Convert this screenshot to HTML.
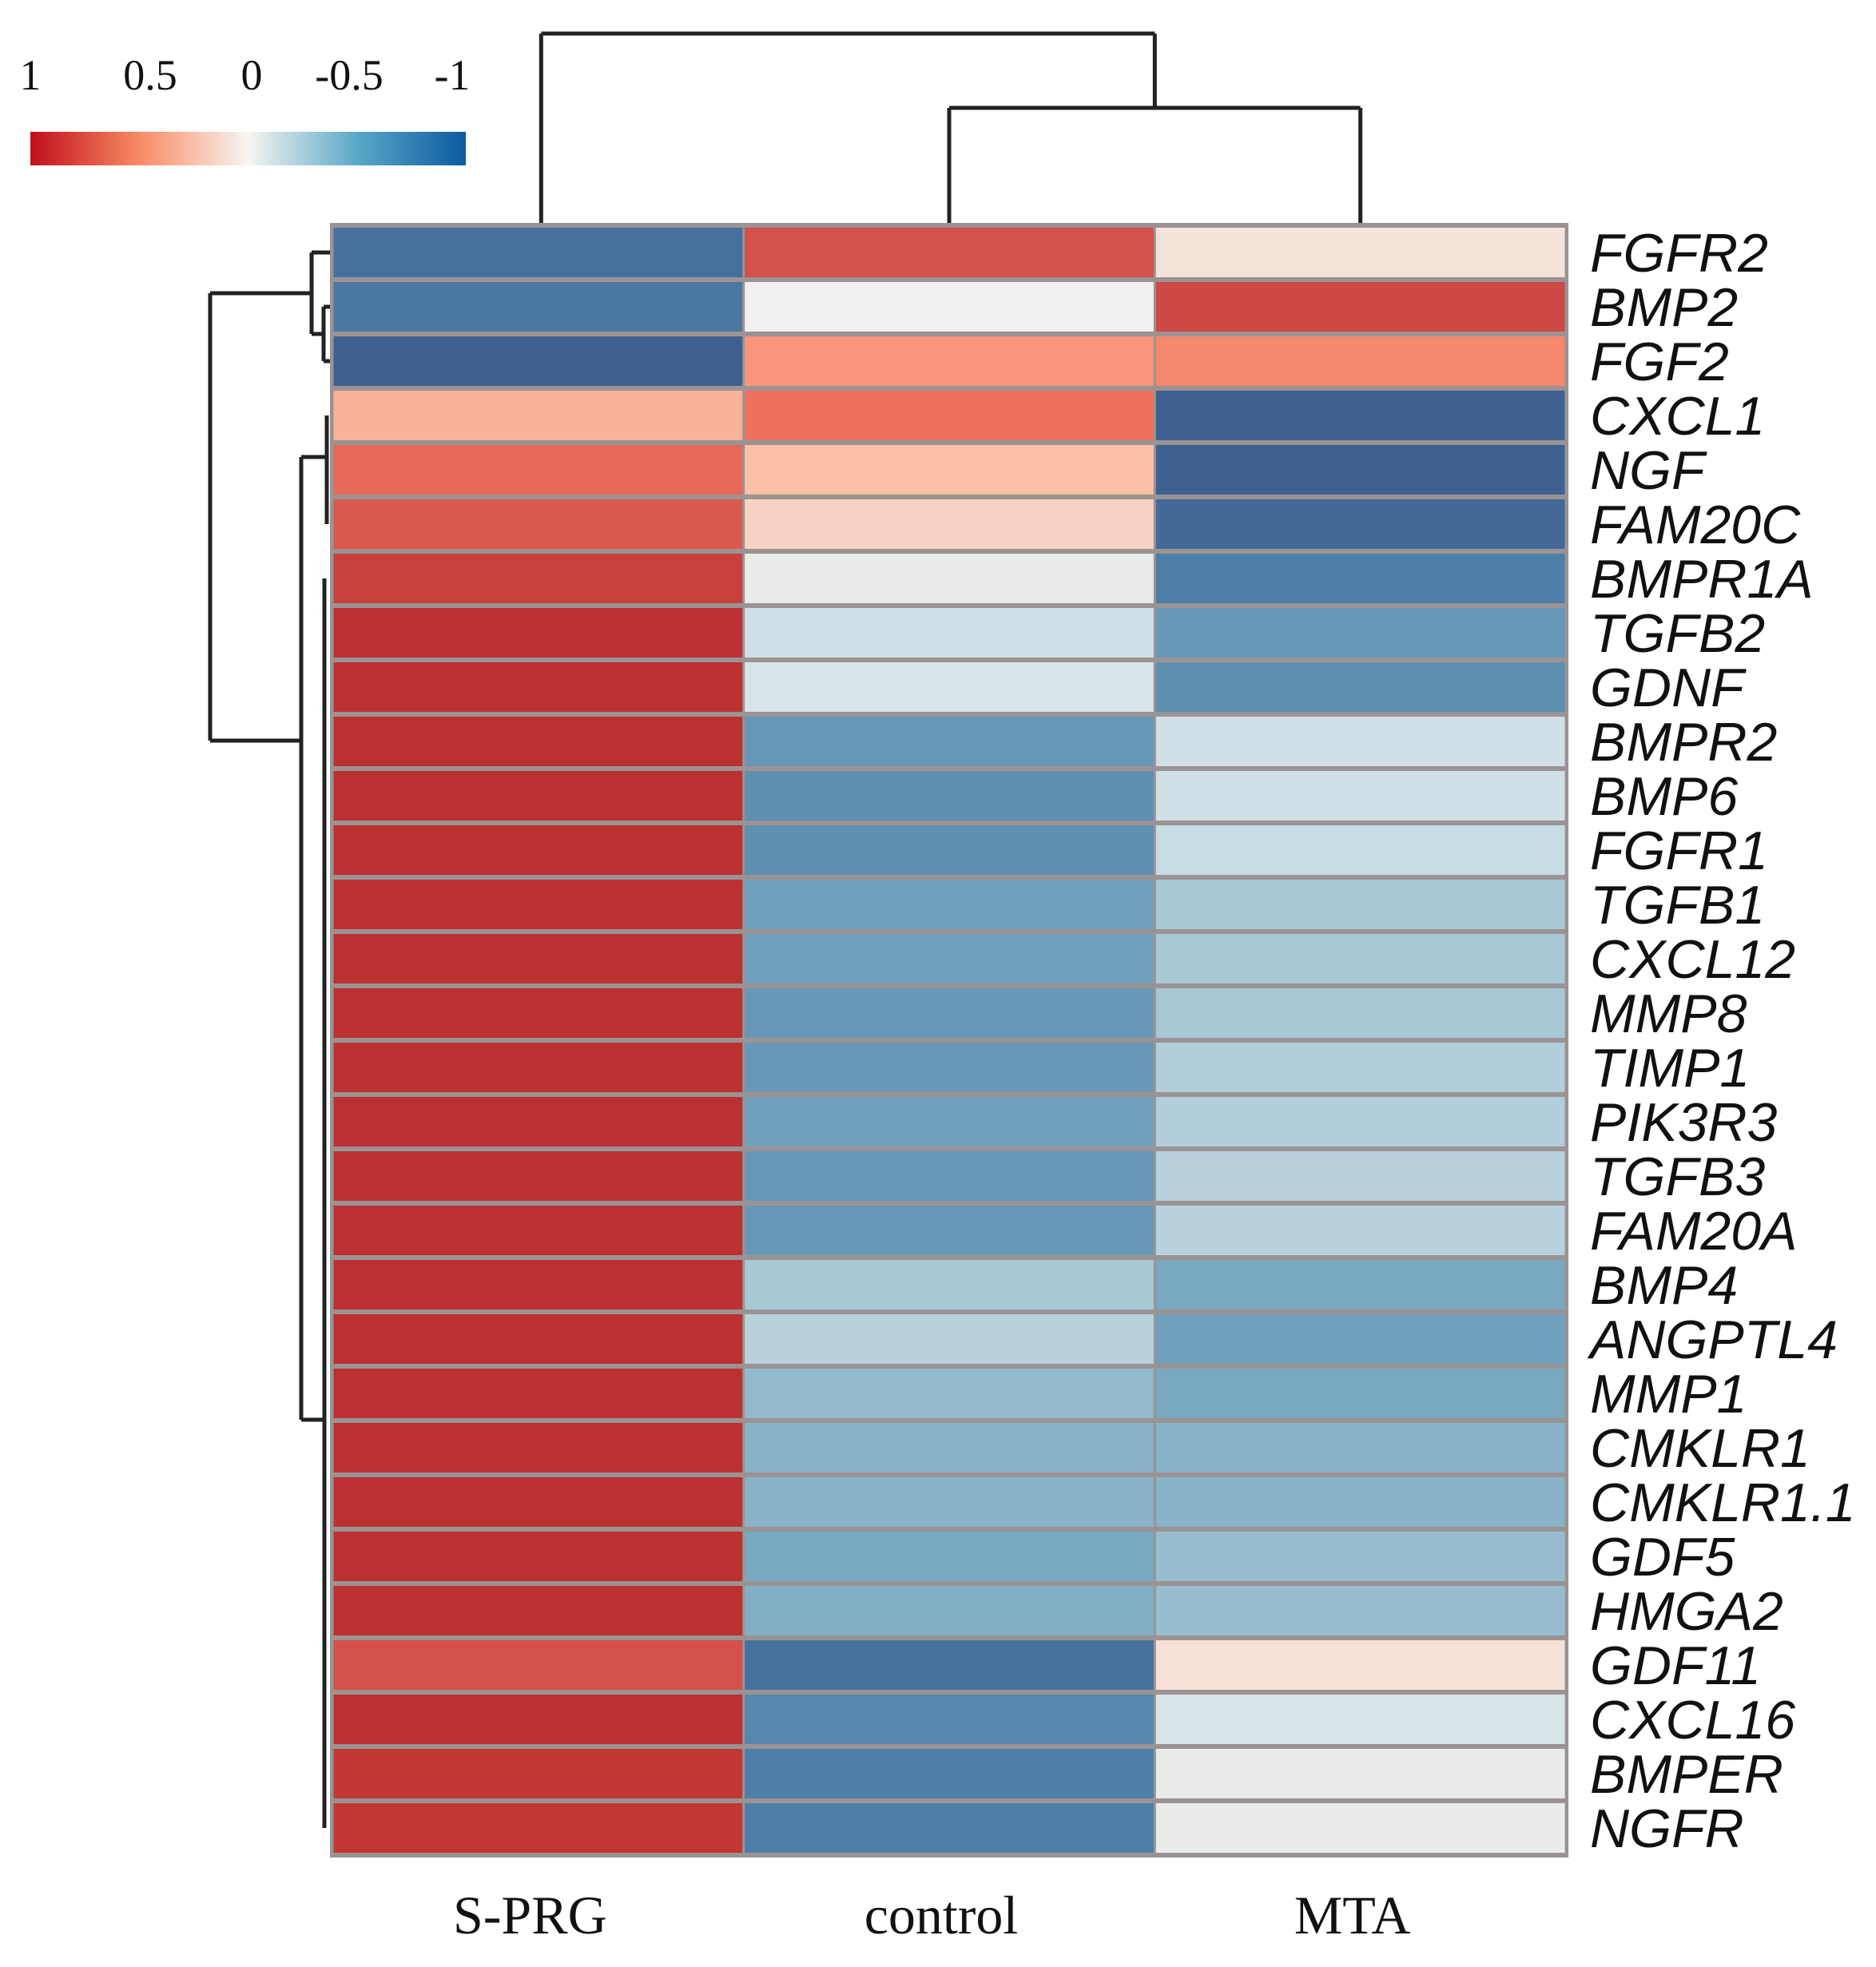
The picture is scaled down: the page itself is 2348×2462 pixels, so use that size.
<!DOCTYPE html>
<html><head><meta charset="utf-8"><style>
html,body{margin:0;padding:0;background:#fff;}
svg{display:block;}
</style></head><body>
<svg id="chart" width="2348" height="2462" viewBox="0 0 2348 2462" xmlns="http://www.w3.org/2000/svg">
<defs>
<linearGradient id="lg" x1="0" x2="1" y1="0" y2="0">
<stop offset="0" stop-color="#c0101e"/><stop offset="0.25" stop-color="#f88a64"/><stop offset="0.5" stop-color="#f7f5f2"/><stop offset="0.75" stop-color="#5aa8c8"/><stop offset="1" stop-color="#0b5aa0"/>
</linearGradient>
</defs>
<g font-family="Liberation Serif, serif" font-size="54" fill="#111">
<text x="38" y="112" text-anchor="middle">1</text>
<text x="188" y="112" text-anchor="middle">0.5</text>
<text x="315" y="112" text-anchor="middle">0</text>
<text x="437" y="112" text-anchor="middle">-0.5</text>
<text x="566" y="112" text-anchor="middle">-1</text>
<rect x="38" y="165" width="545" height="42" fill="url(#lg)"/>
</g>
<g id="dendro" stroke="#222" stroke-width="5" fill="none"></g>
<g id="cells"></g>
<g id="rowlabels" font-family="Liberation Sans, sans-serif" font-style="italic" font-size="68" fill="#111"></g>
<g id="collabels" font-family="Liberation Serif, serif" font-size="68" fill="#111"></g>
</svg>
<script>
const columns = ["S-PRG","control","MTA"];
const genes = ["FGFR2","BMP2","FGF2","CXCL1","NGF","FAM20C","BMPR1A","TGFB2","GDNF","BMPR2","BMP6","FGFR1","TGFB1","CXCL12","MMP8","TIMP1","PIK3R3","TGFB3","FAM20A","BMP4","ANGPTL4","MMP1","CMKLR1","CMKLR1.1","GDF5","HMGA2","GDF11","CXCL16","BMPER","NGFR"];
const sprgValues = [-0.85,-0.8,-0.95,0.3,0.6,0.7,0.85,0.95,0.95,0.95,0.95,0.95,0.95,0.95,0.95,0.95,0.95,0.95,0.95,0.95,0.95,0.95,0.95,0.95,0.95,0.95,0.75,0.95,0.9,0.9];
const controlValues = [0.75,0.0,0.4,0.55,0.25,0.15,-0.05,-0.2,-0.15,-0.6,-0.65,-0.65,-0.55,-0.55,-0.6,-0.6,-0.55,-0.6,-0.6,-0.35,-0.3,-0.42,-0.45,-0.45,-0.5,-0.47,-0.85,-0.7,-0.75,-0.75];
const mtaValues = [0.07,0.8,0.45,-0.95,-0.95,-0.9,-0.75,-0.6,-0.65,-0.2,-0.2,-0.25,-0.35,-0.35,-0.35,-0.32,-0.32,-0.3,-0.3,-0.5,-0.55,-0.5,-0.45,-0.45,-0.4,-0.4,0.08,-0.15,-0.05,-0.05];

const NS="http://www.w3.org/2000/svg";
const X0=416, X1=1960, Y0=282, Y1=2322;
const cw=(X1-X0)/columns.length, rh=(Y1-Y0)/genes.length;
const xPos=c=>X0+c*cw, yPos=r=>Y0+r*rh, rowMid=r=>Y0+(r+0.5)*rh, colMid=c=>X0+(c+0.5)*cw;
const stops=[[1,[181,40,43]],[0.75,[212,80,74]],[0.5,[244,122,95]],[0.25,[252,192,166]],[0,[242,240,238]],[-0.25,[200,220,228]],[-0.5,[120,169,193]],[-0.75,[77,127,168]],[-1,[60,90,141]]];
function color(v){v=Math.max(-1,Math.min(1,v));for(let i=0;i<stops.length-1;i++){const a=stops[i],b=stops[i+1];if(v<=a[0]&&v>=b[0]){const t=(a[0]-v)/(a[0]-b[0]);const c=a[1].map((x,k)=>Math.round(x+(b[1][k]-x)*t));return `rgb(${c})`;}}return "#fff";}
const series=[sprgValues,controlValues,mtaValues];
const cells=document.getElementById('cells');
const bg=document.createElementNS(NS,'rect');
bg.setAttribute('x',X0-3);bg.setAttribute('y',Y0-3);bg.setAttribute('width',X1-X0+6);bg.setAttribute('height',Y1-Y0+6);bg.setAttribute('fill','#9b9393');


cells.appendChild(bg);
series.forEach((vals,c)=>vals.forEach((v,r)=>{
  const el=document.createElementNS(NS,'rect');
  el.setAttribute('x',xPos(c)+1.5);el.setAttribute('y',yPos(r)+3);
  el.setAttribute('width',cw-3);el.setAttribute('height',rh-6);
  el.setAttribute('fill',color(v));
  
  
  cells.appendChild(el);
}));
const rl=document.getElementById('rowlabels');
genes.forEach((g,r)=>{const t=document.createElementNS(NS,'text');t.setAttribute('x',1990);t.setAttribute('y',rowMid(r)+24);t.textContent=g;
  
  
  rl.appendChild(t);});
const cl=document.getElementById('collabels');
columns.forEach((g,c)=>{const t=document.createElementNS(NS,'text');t.setAttribute('x',colMid(c)-10);t.setAttribute('y',2420);t.setAttribute('text-anchor','middle');t.textContent=g;
  
  
  cl.appendChild(t);});
// dendrograms
const d=document.getElementById('dendro');
function line(x1,y1,x2,y2,name){const l=document.createElementNS(NS,'path');l.setAttribute('d',`M${x1} ${y1}L${x2} ${y2}`);
  
  
  d.appendChild(l);}
// column dendrogram
const c0=colMid(0)+4,c1=colMid(1),c2=colMid(2);
line(c1,135,c2,135,'col-dendro-bar-low');line(c1,135,c1,Y0,'col-dendro-leg');line(c2,135,c2,Y0,'col-dendro-leg');
const j=(c1+c2)/2;
line(c0,42,j,42,'col-dendro-bar-top');line(c0,42,c0,Y0,'col-dendro-leg');line(j,42,j,135,'col-dendro-leg');
// row dendrogram
const a=(rowMid(1)+rowMid(2))/2;
line(405,rowMid(1),X0,rowMid(1),'row-dendro');line(405,rowMid(2),X0,rowMid(2),'row-dendro');line(405,rowMid(1),405,rowMid(2),'row-dendro');
const b=(rowMid(0)+a)/2;
line(390,rowMid(0),X0,rowMid(0),'row-dendro');line(390,a,405,a,'row-dendro');line(390,rowMid(0),390,a,'row-dendro');
line(409,rowMid(3),409,rowMid(5),'row-dendro');
line(406,rowMid(6),406,rowMid(29),'row-dendro');
line(377,572,409,572,'row-dendro');line(377,1777,406,1777,'row-dendro');line(377,572,377,1777,'row-dendro');
line(263,b,390,b,'row-dendro');line(263,927,377,927,'row-dendro');line(263,b,263,927,'row-dendro');
</script>
</body></html>
